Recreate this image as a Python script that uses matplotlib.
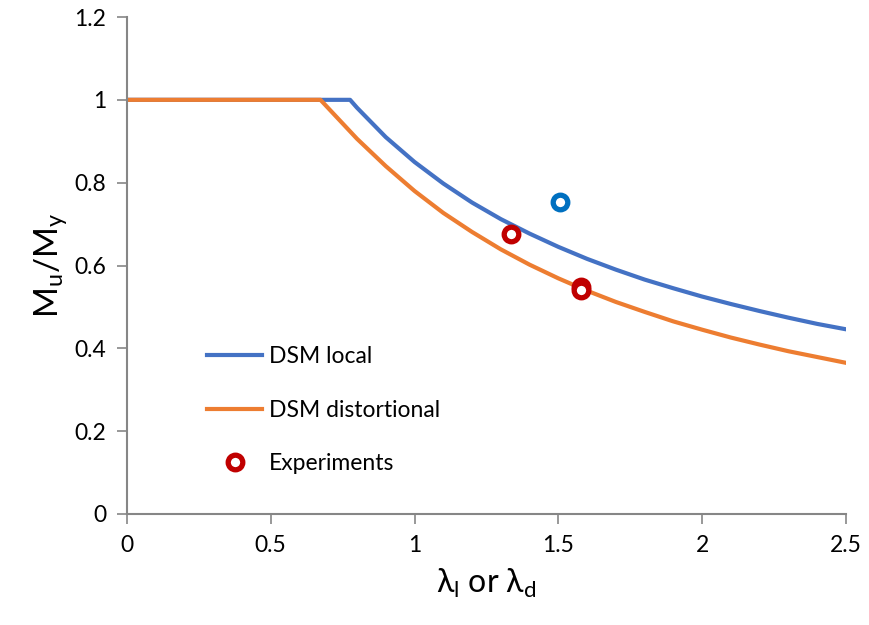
import matplotlib.pyplot as plt

plt.rcParams['font.family'] = ['Lato', 'DejaVu Sans']

# DSM curves
lam_local = [0, 0.776, 0.8, 0.9, 1.0, 1.1, 1.2, 1.3, 1.4, 1.5, 1.6, 1.7, 1.8,
             1.9, 2.0, 2.1, 2.2, 2.3, 2.4, 2.5]
m_local = [1.0, 1.0, 0.981, 0.910, 0.850, 0.798, 0.752, 0.712, 0.677, 0.645,
           0.616, 0.590, 0.566, 0.545, 0.525, 0.507, 0.490, 0.474, 0.459, 0.446]

lam_dist = [0, 0.673, 0.7, 0.8, 0.9, 1.0, 1.1, 1.2, 1.3, 1.4, 1.5, 1.6, 1.7,
            1.8, 1.9, 2.0, 2.1, 2.2, 2.3, 2.4, 2.5]
m_dist = [1.0, 1.0, 0.980, 0.906, 0.840, 0.780, 0.727, 0.681, 0.639, 0.602,
          0.569, 0.539, 0.512, 0.488, 0.465, 0.445, 0.426, 0.409, 0.393, 0.379, 0.365]

# experiments
exp_lam = [1.335, 1.579, 1.579]
exp_m = [0.676, 0.547, 0.541]
extra_lam = [1.506]
extra_m = [0.754]

fig = plt.figure(figsize=(8.69, 6.25), dpi=100)
ax = fig.add_axes([0.146, 0.1776, 0.8275, 0.7952])

ax.plot(lam_local, m_local, color='#4472C4', lw=3, label='DSM local', zorder=2)
ax.plot(lam_dist, m_dist, color='#ED7D31', lw=3, label='DSM distortional', zorder=2)
ax.plot(exp_lam, exp_m, ls='none', marker='o', ms=10.5, mfc='white', mec='#C00000',
        mew=3.8, label='Experiments', zorder=3)
ax.plot(extra_lam, extra_m, ls='none', marker='o', ms=10.5, mfc='white', mec='#0070C0',
        mew=3.8, zorder=3)

ax.set_xlim(0, 2.5)
ax.set_ylim(0, 1.2)
ax.set_xticks([0, 0.5, 1, 1.5, 2, 2.5])
ax.set_xticklabels(['0', '0.5', '1', '1.5', '2', '2.5'])
ax.set_yticks([0, 0.2, 0.4, 0.6, 0.8, 1, 1.2])
ax.set_yticklabels(['0', '0.2', '0.4', '0.6', '0.8', '1', '1.2'])

for s in ['top', 'right']:
    ax.spines[s].set_visible(False)
for s in ['left', 'bottom']:
    ax.spines[s].set_color('#868686')
    ax.spines[s].set_linewidth(1.5)
ax.tick_params(axis='both', direction='out', length=7, width=1.2, color='#868686',
               labelsize=16.5, labelcolor='black', pad=8)

ax.set_xlabel(r'$\mathregular{\lambda_l}$ or $\mathregular{\lambda_d}$', fontsize=23, labelpad=8)
ax.set_ylabel(r'$\mathregular{M_u/M_y}$', fontsize=24, labelpad=4)

ax.legend(loc='lower left', bbox_to_anchor=(0.083, 0.038), frameon=False, fontsize=16.5,
          handlelength=2.4, labelspacing=1.42, handletextpad=0.3)

fig.savefig('out.png', dpi=100)
